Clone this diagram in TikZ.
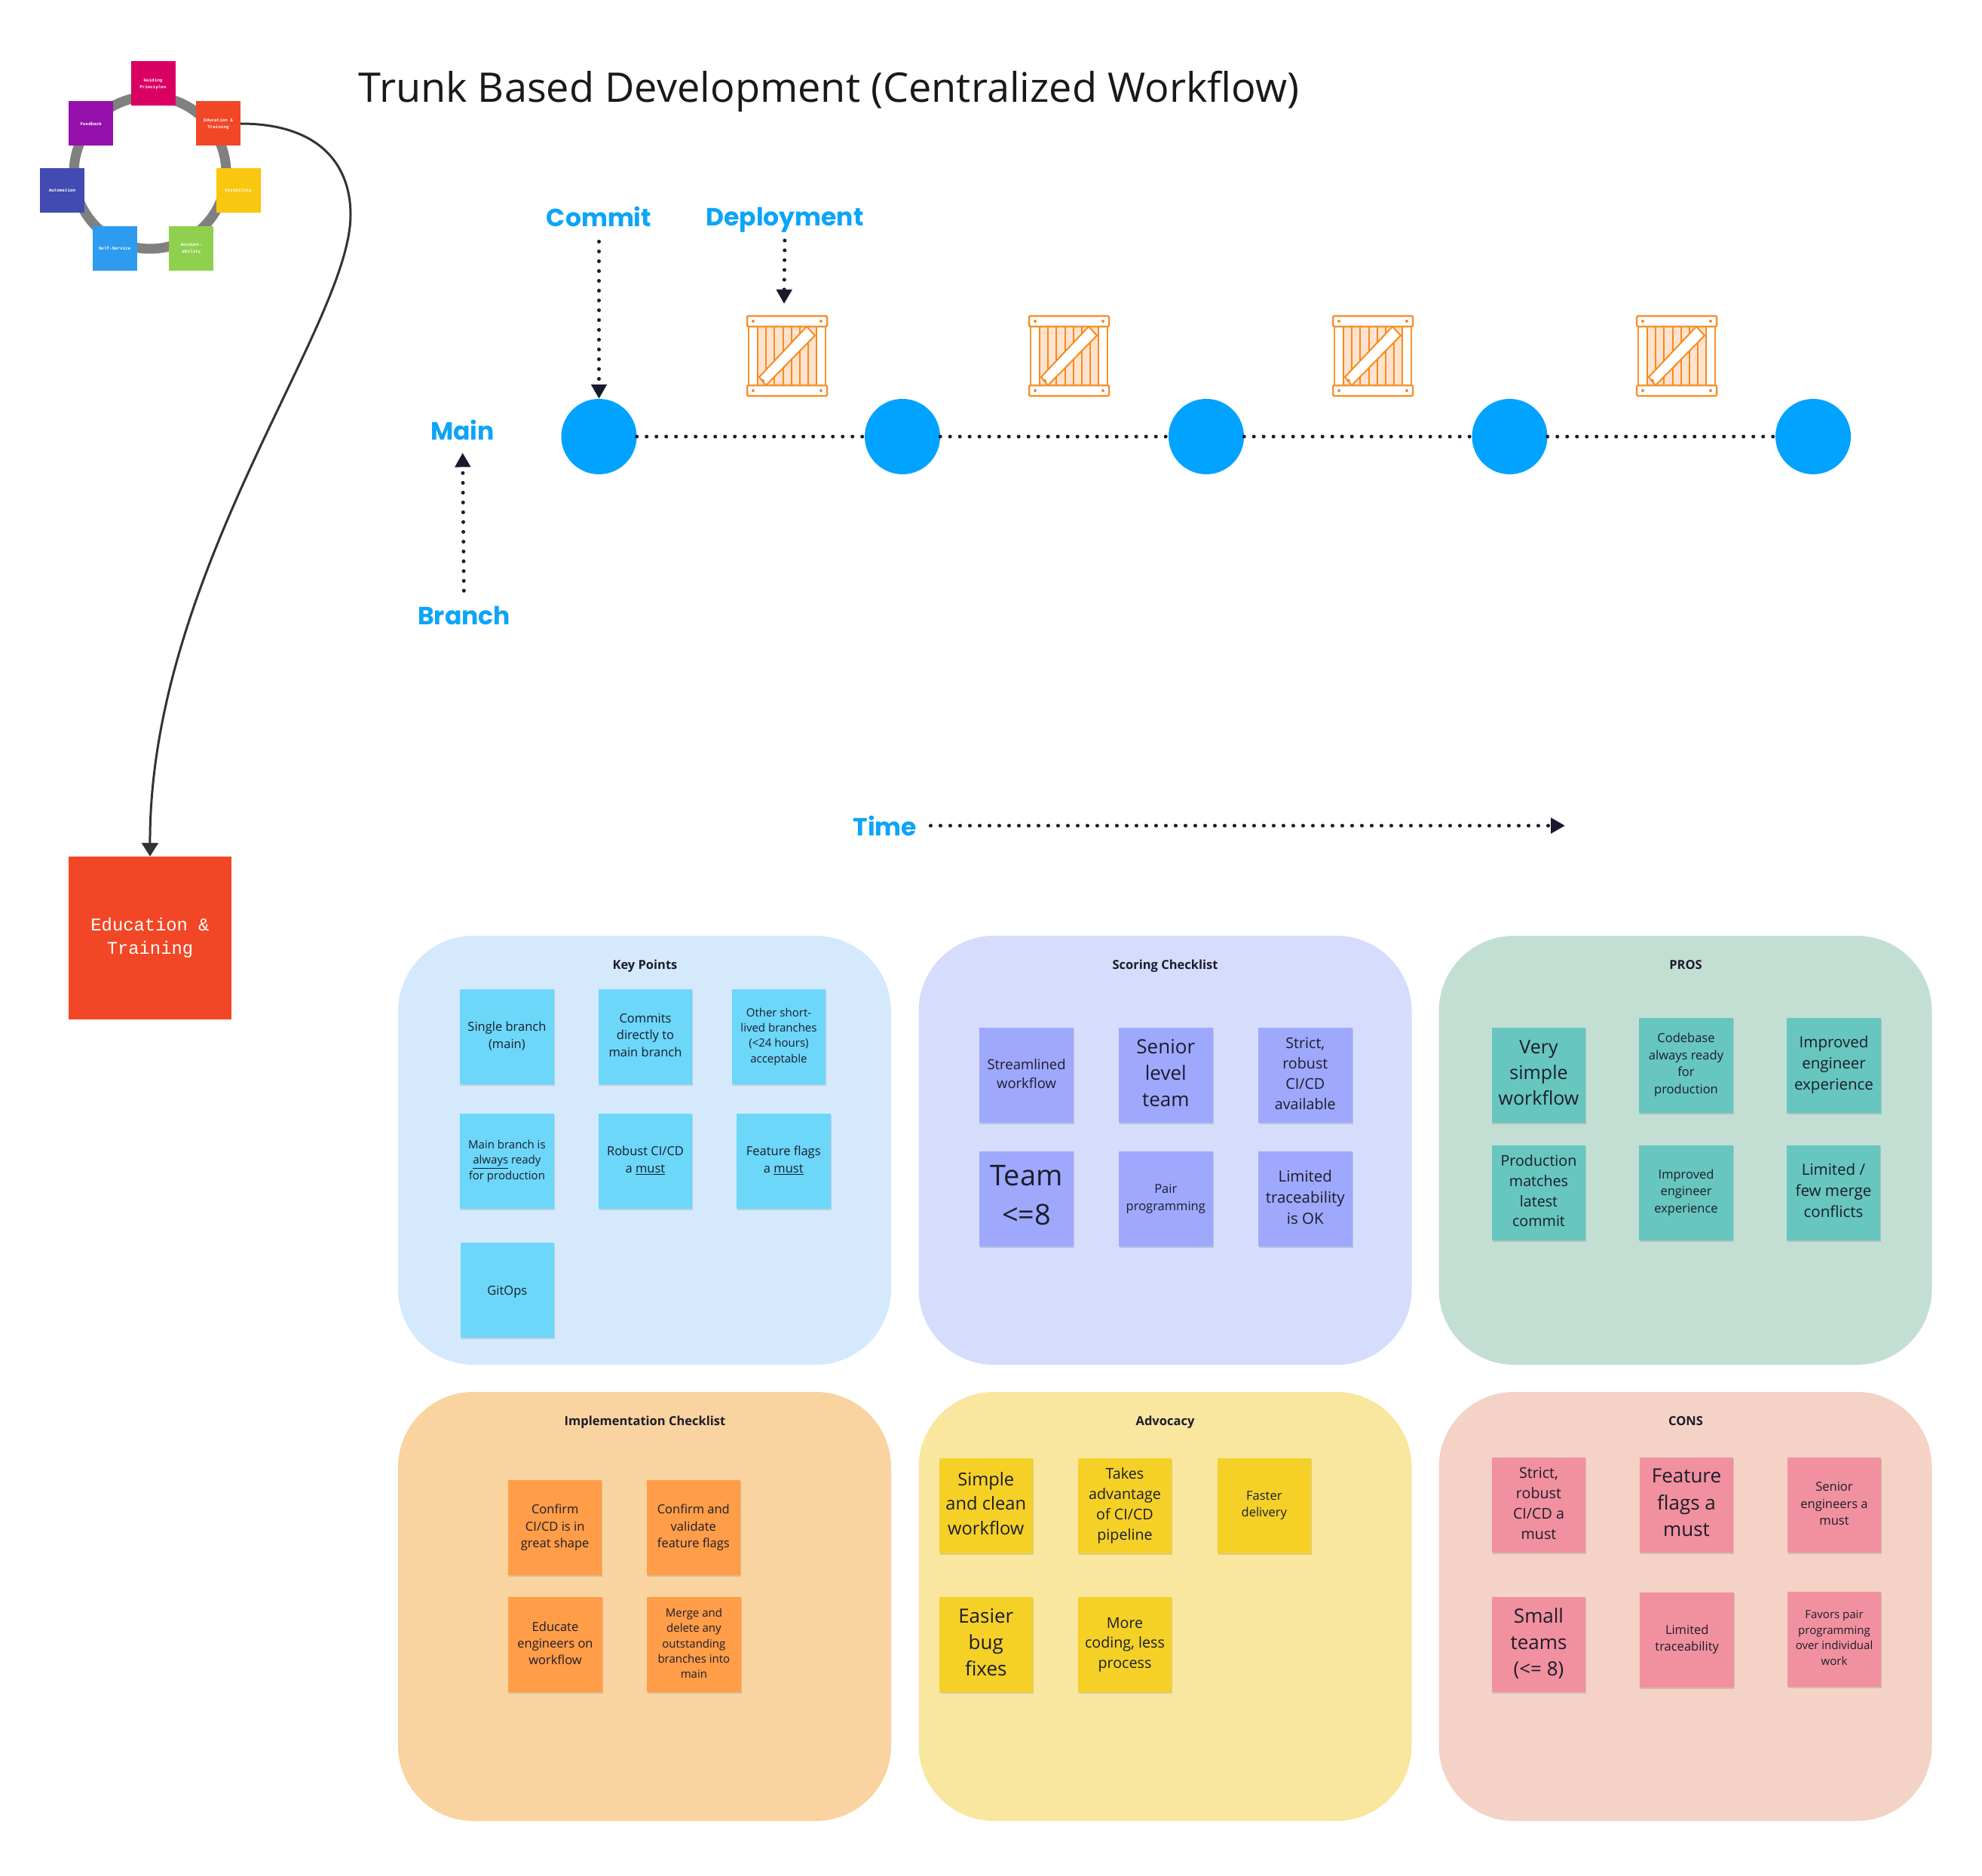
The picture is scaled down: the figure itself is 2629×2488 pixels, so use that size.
\documentclass[tikz,border=0pt]{standalone}
\usepackage{fontspec}
\setmainfont{Open Sans}
\setmonofont{Liberation Mono}
\newfontfamily\labelfont{Poppins}
\usetikzlibrary{arrows.meta,shadows}

\definecolor{inktext}{HTML}{1C1C2A}
\definecolor{dotink}{HTML}{1A1A2E}
\definecolor{labelblue}{HTML}{0CA5F7}
\definecolor{nodeblue}{HTML}{00A3FF}
\definecolor{crateline}{HTML}{F59331}
\definecolor{crateslat}{HTML}{F88B1C}
\definecolor{cratefill}{HTML}{FDE3CF}
\definecolor{ringgray}{HTML}{808080}
\definecolor{ringrose}{HTML}{DA0063}
\definecolor{ringred}{HTML}{F24726}
\definecolor{ringyellow}{HTML}{FAC710}
\definecolor{ringgreen}{HTML}{8FD14F}
\definecolor{ringblue}{HTML}{2D9BF0}
\definecolor{ringindigo}{HTML}{414BB2}
\definecolor{ringviolet}{HTML}{9510AC}
\definecolor{keypanel}{HTML}{D5E9FD}
\definecolor{keysticky}{HTML}{6CD7F9}
\definecolor{scorepanel}{HTML}{D6DCFB}
\definecolor{scoresticky}{HTML}{9EA9FD}
\definecolor{prospanel}{HTML}{C3DFD4}
\definecolor{prossticky}{HTML}{67C6C0}
\definecolor{implpanel}{HTML}{F9D3A0}
\definecolor{implsticky}{HTML}{FF9D48}
\definecolor{advpanel}{HTML}{F9E69F}
\definecolor{advsticky}{HTML}{F5D128}
\definecolor{conspanel}{HTML}{F4D2C6}
\definecolor{conssticky}{HTML}{F1919F}

\newcommand{\linestrut}{\rule[-.26em]{0pt}{1.26em}}
\newcommand{\monostrut}{\rule[-.1em]{0pt}{1.12em}}

\tikzset{
  txt/.style={font=\fontsize{#1}{\dimexpr #1pt*136/100\relax}\selectfont},
  panel/.style={minimum width=654pt,minimum height=569pt,rounded corners=100pt},
  paneltitle/.style={inner sep=0pt,text=inktext,font=\fontsize{16.5}{20}\selectfont\bfseries},
  sticky/.style={minimum width=124.5pt,minimum height=126pt,inner sep=0pt,align=center,text=inktext,
    execute at begin node=\linestrut,execute at end node=\linestrut,
    drop shadow={shadow xshift=1pt,shadow yshift=-2pt,opacity=.12,fill=black}},
  ringbox/.style={minimum size=59pt,inner sep=0pt,align=center,text=white,
    font=\ttfamily\bfseries\fontsize{5.9}{9}\selectfont},
  commitnode/.style={circle,fill=nodeblue,minimum size=100pt,inner sep=0pt},
  flowlabel/.style={anchor=base,inner sep=0pt,text=labelblue,font=\labelfont\bfseries\fontsize{33}{40}\selectfont},
  dotline/.style={draw=dotink,line width=5pt,line cap=round,dash pattern=on 0pt off 13pt},
  dotarrow/.style={dotline,-{Triangle[width=20pt,length=19pt,line cap=butt]}},
  crate/.pic={
    \fill[cratefill] (-39,-39) rectangle (39,39);
    \foreach \px in {-39,-28,-17,-5.5,5.5,17,28,39}
      \draw[crateslat,line width=2pt] (\px,-39) -- (\px,39);
    \draw[crateline,line width=2pt] (-51,-39) -- (-51,39);
    \draw[crateline,line width=2pt] (51,-39) -- (51,39);
    \draw[crateslat,line width=2pt,fill=white] (-37,28) -- (26,-39) -- (37,-27) -- (-28,39) -- cycle;
    \draw[crateline,line width=2.5pt,fill=white,rounded corners=1.5pt] (-53,-53) rectangle (53,-39);
    \draw[crateline,line width=2.5pt,fill=white,rounded corners=1.5pt] (-53,39) rectangle (53,53);
    \fill[crateline!80!gray] (-45,-46) circle (2) (45,-46) circle (2) (-45,46) circle (2) (45,46) circle (2) (-32,33) circle (2);
  }
}

\begin{document}
\begin{tikzpicture}[x=1pt,y=-1pt]
  \useasboundingbox (0,0) rectangle (2629,2488);

  \node[inner sep=0pt,text=black!90,font=\fontsize{54.1}{60}\selectfont] (title) at (1099.5,121) {Trunk Based Development (Centralized Workflow)};

  % ring of practices
  \node[circle,draw=ringgray,line width=13pt,minimum size=202pt] (ring) at (199,229) {};
  \begin{scope}[every node/.style={ringbox}]
    \node[fill=ringrose]   (guiding)    at (203,111)     {Guiding\\Principles};
    \node[fill=ringred]    (education)  at (289.5,164)   {Education \&\\Training};
    \node[fill=ringyellow] (visibility) at (316,252.7)   {Visibility};
    \node[fill=ringgreen]  (account)    at (253.8,329.3) {Account-\\ability};
    \node[fill=ringblue]   (selfserv)   at (152.2,329.3) {Self-Service};
    \node[fill=ringindigo] (automation) at (82.5,252.7)  {Automation};
    \node[fill=ringviolet] (feedback)   at (120.8,164)   {Feedback};
  \end{scope}

  \node[fill=ringred,minimum size=216pt,inner sep=0pt,align=center,text=white,
    execute at begin node=\monostrut,execute at end node=\monostrut,
    font=\ttfamily\fontsize{23.8}{31}\selectfont] (training) at (199,1244) {Education \&\\Training};
  \draw[draw=black!80,line width=3pt,-{Triangle[width=22pt,length=18pt]}] (education.east)
    .. controls (420,164) and (465,215) .. (465,285)
    .. controls (465,430) and (198,760) .. (training.north);

  % timeline
  \begin{scope}[every node/.style={commitnode}]
    \node (m1) at (794.5,579) {};
    \node (m2) at (1197,579)  {};
    \node (m3) at (1600,579)  {};
    \node (m4) at (2002.5,579) {};
    \node (m5) at (2405,579)  {};
  \end{scope}
  \draw[dotline] (m1) -- (m2);
  \draw[dotline] (m2) -- (m3);
  \draw[dotline] (m3) -- (m4);
  \draw[dotline] (m4) -- (m5);

  \path (1044,472) pic {crate};
  \path (1418,472) pic {crate};
  \path (1821,472) pic {crate};
  \path (2224,472) pic {crate};

  \begin{scope}[every node/.style={flowlabel}]
    \node (commit) at (794.5,301)  {Commit};
    \node (deploy) at (1041,300)   {Deployment};
    \node (main)   at (613.5,583)  {Main};
    \node (branch) at (615.5,828)  {Branch};
    \node (time)   at (1174,1108)  {Time};
  \end{scope}
  \coordinate (decktop) at (1040,403);
  \coordinate (timeend) at (2076,1095);

  \draw[dotarrow,shorten <=19pt] (commit.south) -- (m1.north);
  \draw[dotarrow,shorten <=10pt] (deploy.south) -- (decktop);
  \draw[dotarrow,shorten <=20pt,shorten >=17pt] (branch.north) -- (main.south);
  \draw[dotarrow,shorten <=18pt] (time.east |- timeend) -- (timeend);

  % panels
  \node[panel,fill=keypanel]   (keys)  at (855,1525.5)  {};
  \node[panel,fill=scorepanel] (score) at (1545.5,1525.5) {};
  \node[panel,fill=prospanel]  (pros)  at (2235.5,1525.5) {};
  \node[panel,fill=implpanel]  (impl)  at (855,2130.5)  {};
  \node[panel,fill=advpanel]   (adv)   at (1545.5,2130.5) {};
  \node[panel,fill=conspanel]  (cons)  at (2235.5,2130.5) {};

  \node[paneltitle] (keytitle)   at (855.5,1281.5)  {Key Points};
  \node[paneltitle] (scoretitle) at (1545.5,1281.5) {Scoring Checklist};
  \node[paneltitle] (prostitle)  at (2236,1280)     {PROS};
  \node[paneltitle] (impltitle)  at (855.5,1886.5)  {Implementation Checklist};
  \node[paneltitle] (advtitle)   at (1545.5,1886.5) {Advocacy};
  \node[paneltitle] (constitle)  at (2236,1885)     {CONS};

  \begin{scope}[every node/.style={sticky,fill=keysticky}]
    \node[txt=16.5] (k1) at (672.4,1375) {Single branch\\(main)};
    \node[txt=16.5] (k2) at (856,1375)   {Commits\\directly to\\main branch};
    \node[txt=15]   (k3) at (1033,1375)  {Other short-\\lived branches\\(<24 hours)\\acceptable};
    \node[txt=15]   (k4) at (672.4,1540) {Main branch is\\\underline{always} ready\\for production};
    \node[txt=16.5] (k5) at (856,1540)   {Robust CI/CD\\a \underline{must}};
    \node[txt=16.5] (k6) at (1039.3,1540) {Feature flags\\a \underline{must}};
    \node[txt=16.5] (k7) at (672.8,1711) {GitOps};
  \end{scope}

  \begin{scope}[every node/.style={sticky,fill=scoresticky}]
    \node[txt=18.5] (s1) at (1361.6,1426.3) {Streamlined\\workflow};
    \node[txt=26]   (s2) at (1546.3,1426.3) {Senior\\level\\team};
    \node[txt=19.7] (s3) at (1731.3,1426.3) {Strict,\\robust\\CI/CD\\available};
    \node[txt=38]   (s4) at (1361.6,1590)   {Team\\<=8};
    \node[txt=16.5] (s5) at (1546.3,1590)   {Pair\\programming};
    \node[txt=20.5] (s6) at (1731.3,1590)   {Limited\\traceability\\is OK};
  \end{scope}

  \begin{scope}[every node/.style={sticky,fill=prossticky}]
    \node[txt=25]   (p1) at (2041,1426.3)   {Very\\simple\\workflow};
    \node[txt=16.5] (p2) at (2236.5,1412.5) {Codebase\\always ready\\for\\production};
    \node[txt=20.5] (p3) at (2432.5,1412.5) {Improved\\engineer\\experience};
    \node[txt=19.7] (p4) at (2041,1581.7)   {Production\\matches\\latest\\commit};
    \node[txt=16.5] (p5) at (2236.5,1581.7) {Improved\\engineer\\experience};
    \node[txt=20.5] (p6) at (2432,1581.7)   {Limited /\\few merge\\conflicts};
  \end{scope}

  \begin{scope}[every node/.style={sticky,fill=implsticky}]
    \node[txt=16.5] (i1) at (736.2,2026.2) {Confirm\\CI/CD is in\\great shape};
    \node[txt=16.5] (i2) at (919.8,2026.2) {Confirm and\\validate\\feature flags};
    \node[txt=16.5] (i3) at (736.5,2181.4) {Educate\\engineers on\\workflow};
    \node[txt=15]   (i4) at (920.4,2181.4) {Merge and\\delete any\\outstanding\\branches into\\main};
  \end{scope}

  \begin{scope}[every node/.style={sticky,fill=advsticky}]
    \node[txt=23.7] (a1) at (1307.8,1997)   {Simple\\and clean\\workflow};
    \node[txt=19.7] (a2) at (1492,1997)     {Takes\\advantage\\of CI/CD\\pipeline};
    \node[txt=16.5] (a3) at (1676.8,1997)   {Faster\\delivery};
    \node[txt=26]   (a4) at (1307.8,2181.4) {Easier\\bug\\fixes};
    \node[txt=19.7] (a5) at (1492,2181.4)   {More\\coding, less\\process};
  \end{scope}

  \begin{scope}[every node/.style={sticky,fill=conssticky}]
    \node[txt=19.7] (c1) at (2041,1996.3)   {Strict,\\robust\\CI/CD a\\must};
    \node[txt=26]   (c2) at (2237,1996.3)   {Feature\\flags a\\must};
    \node[txt=16.5] (c3) at (2433,1996.3)   {Senior\\engineers a\\must};
    \node[txt=26]   (c4) at (2041,2181)     {Small\\teams\\(<= 8)};
    \node[txt=16.5] (c5) at (2237.7,2174.5) {Limited\\traceability};
    \node[txt=15]   (c6) at (2433,2174)     {Favors pair\\programming\\over individual\\work};
  \end{scope}

\end{tikzpicture}
\end{document}
